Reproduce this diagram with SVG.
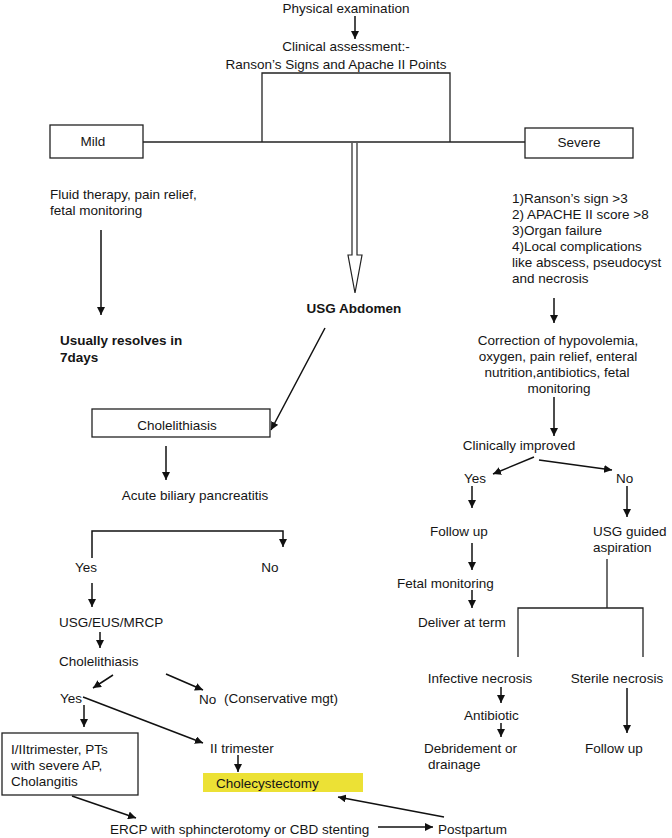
<svg xmlns="http://www.w3.org/2000/svg" width="672" height="838" viewBox="0 0 672 838">
<defs>
<marker id="ah" viewBox="0 0 10 10" refX="10" refY="5" markerWidth="8" markerHeight="8" markerUnits="userSpaceOnUse" orient="auto">
<path d="M0,0 L10,5 L0,10 z" fill="#111"/>
</marker>
</defs>
<style>
text{font-family:"Liberation Sans",Arial,sans-serif;font-size:13.5px;fill:#151515}
.b{font-weight:bold}
.m{text-anchor:middle}
.box{fill:#fff;stroke:#222;stroke-width:1.3}
.ln{fill:none;stroke:#222;stroke-width:1.3}
.ar{fill:none;stroke:#111;stroke-width:1.5;marker-end:url(#ah)}
</style>
<rect width="672" height="838" fill="#fff"/>
<g id="connectors">
<line class="ar" x1="355" y1="16" x2="355" y2="39"/>
<polyline class="ln" points="262,142 262,73 450,73 450,142"/>
<line class="ln" x1="143" y1="142" x2="525" y2="142"/>
<path d="M352,143 L352,255 L348,255 L355,293 L362,255 L357,255 L357,143" fill="#fff" stroke="#222" stroke-width="1.2"/>
<line class="ar" x1="101" y1="230" x2="101" y2="315"/>
<line class="ar" x1="325" y1="328" x2="271" y2="430"/>
<line class="ar" x1="166" y1="446" x2="166" y2="480"/>
<polyline class="ar" points="92,558 92,531 283,531 283,547"/>
<line class="ar" x1="92" y1="583" x2="92" y2="607"/>
<line class="ar" x1="100" y1="632" x2="100" y2="648"/>
<line class="ar" x1="113" y1="675" x2="93" y2="688"/>
<line class="ar" x1="166" y1="674" x2="203" y2="690"/>
<line class="ar" x1="84" y1="705" x2="84" y2="727"/>
<line class="ar" x1="83" y1="697" x2="203" y2="743"/>
<line class="ar" x1="238" y1="755" x2="238" y2="772"/>
<line class="ar" x1="72" y1="796" x2="136" y2="818"/>
<line class="ar" x1="378" y1="827" x2="433" y2="827"/>
<line class="ar" x1="444" y1="817" x2="338" y2="797"/>
<line class="ar" x1="554" y1="298" x2="554" y2="323"/>
<line class="ar" x1="554" y1="397" x2="554" y2="436"/>
<line class="ar" x1="534" y1="457" x2="493" y2="474"/>
<line class="ar" x1="539" y1="460" x2="612" y2="470"/>
<line class="ar" x1="472" y1="486" x2="472" y2="508"/>
<line class="ar" x1="627" y1="486" x2="627" y2="517"/>
<line class="ar" x1="472" y1="543" x2="472" y2="570"/>
<line class="ar" x1="472" y1="590" x2="472" y2="608"/>
<line class="ln" x1="607" y1="559" x2="607" y2="608"/>
<polyline class="ln" points="518,657 518,608 643,608 643,657"/>
<line class="ar" x1="501" y1="687" x2="501" y2="703"/>
<line class="ar" x1="501" y1="723" x2="501" y2="737"/>
<line class="ar" x1="627" y1="688" x2="627" y2="733"/>
</g>
<g id="n-physical"><text class="m" x="346" y="13">Physical examination</text></g>
<g id="n-clinical"><text class="m" x="346" y="51">Clinical assessment:-</text><text class="m" x="336" y="69">Ranson’s Signs and Apache II Points</text></g>
<g id="n-mild"><rect class="box" x="50" y="125" width="93" height="33"/><text class="m" x="93" y="146">Mild</text></g>
<g id="n-severe"><rect class="box" x="525" y="128" width="108" height="30"/><text class="m" x="579" y="147">Severe</text></g>
<g id="n-fluid"><text x="50" y="199">Fluid therapy, pain relief,</text><text x="50" y="215">fetal monitoring</text></g>
<g id="n-resolves"><text class="b" x="60" y="345">Usually resolves in</text><text class="b" x="60" y="362">7days</text></g>
<g id="n-usg"><text class="b m" x="354" y="313">USG Abdomen</text></g>
<g id="n-criteria"><text x="512" y="203">1)Ranson’s sign &gt;3</text><text x="512" y="219">2) APACHE II score &gt;8</text><text x="512" y="235">3)Organ failure</text><text x="512" y="251">4)Local complications</text><text x="512" y="267">like abscess, pseudocyst</text><text x="512" y="283">and necrosis</text></g>
<g id="n-correction"><text class="m" x="558" y="345">Correction of hypovolemia,</text><text class="m" x="558" y="361">oxygen, pain relief, enteral</text><text class="m" x="557" y="377">nutrition,antibiotics, fetal</text><text class="m" x="559" y="393">monitoring</text></g>
<g id="n-cholelithiasis-box"><rect class="box" x="92" y="409" width="178" height="28"/><text class="m" x="177" y="430">Cholelithiasis</text></g>
<g id="n-acute"><text class="m" x="195" y="500">Acute biliary pancreatitis</text></g>
<g id="n-yes1"><text class="m" x="86" y="572">Yes</text></g>
<g id="n-no1"><text class="m" x="270" y="572">No</text></g>
<g id="n-usgeus"><text x="59" y="627">USG/EUS/MRCP</text></g>
<g id="n-chole2"><text x="59" y="666">Cholelithiasis</text></g>
<g id="n-yes2"><text x="60" y="703">Yes</text></g>
<g id="n-no2"><text x="199" y="704">No</text><text x="224" y="703">(Conservative mgt)</text></g>
<g id="n-trimester-box"><rect class="box" x="2" y="733" width="136" height="62"/><text x="11" y="754">I/IItrimester, PTs</text><text x="11" y="770">with severe AP,</text><text x="11" y="786">Cholangitis</text></g>
<g id="n-ii"><text x="210" y="753">II trimester</text></g>
<g id="n-cholecystectomy"><rect x="203" y="773" width="160" height="19" fill="#ECE135"/><text x="216" y="788">Cholecystectomy</text></g>
<g id="n-ercp"><text x="110" y="834">ERCP with sphincterotomy or CBD stenting</text></g>
<g id="n-postpartum"><text x="438" y="834">Postpartum</text></g>
<g id="n-improved"><text class="m" x="519" y="450">Clinically improved</text></g>
<g id="n-yes3"><text x="464" y="483">Yes</text></g>
<g id="n-no3"><text x="616" y="483">No</text></g>
<g id="n-followup1"><text x="430" y="536">Follow up</text></g>
<g id="n-aspiration"><text x="593" y="536">USG guided</text><text x="593" y="552">aspiration</text></g>
<g id="n-fetal"><text x="397" y="588">Fetal monitoring</text></g>
<g id="n-deliver"><text x="418" y="627">Deliver at term</text></g>
<g id="n-infective"><text class="m" x="480" y="683">Infective necrosis</text></g>
<g id="n-sterile"><text class="m" x="617" y="683">Sterile necrosis</text></g>
<g id="n-antibiotic"><text x="464" y="720">Antibiotic</text></g>
<g id="n-debridement"><text x="424" y="753">Debridement or</text><text x="428" y="769">drainage</text></g>
<g id="n-followup2"><text x="585" y="753">Follow up</text></g>
</svg>
